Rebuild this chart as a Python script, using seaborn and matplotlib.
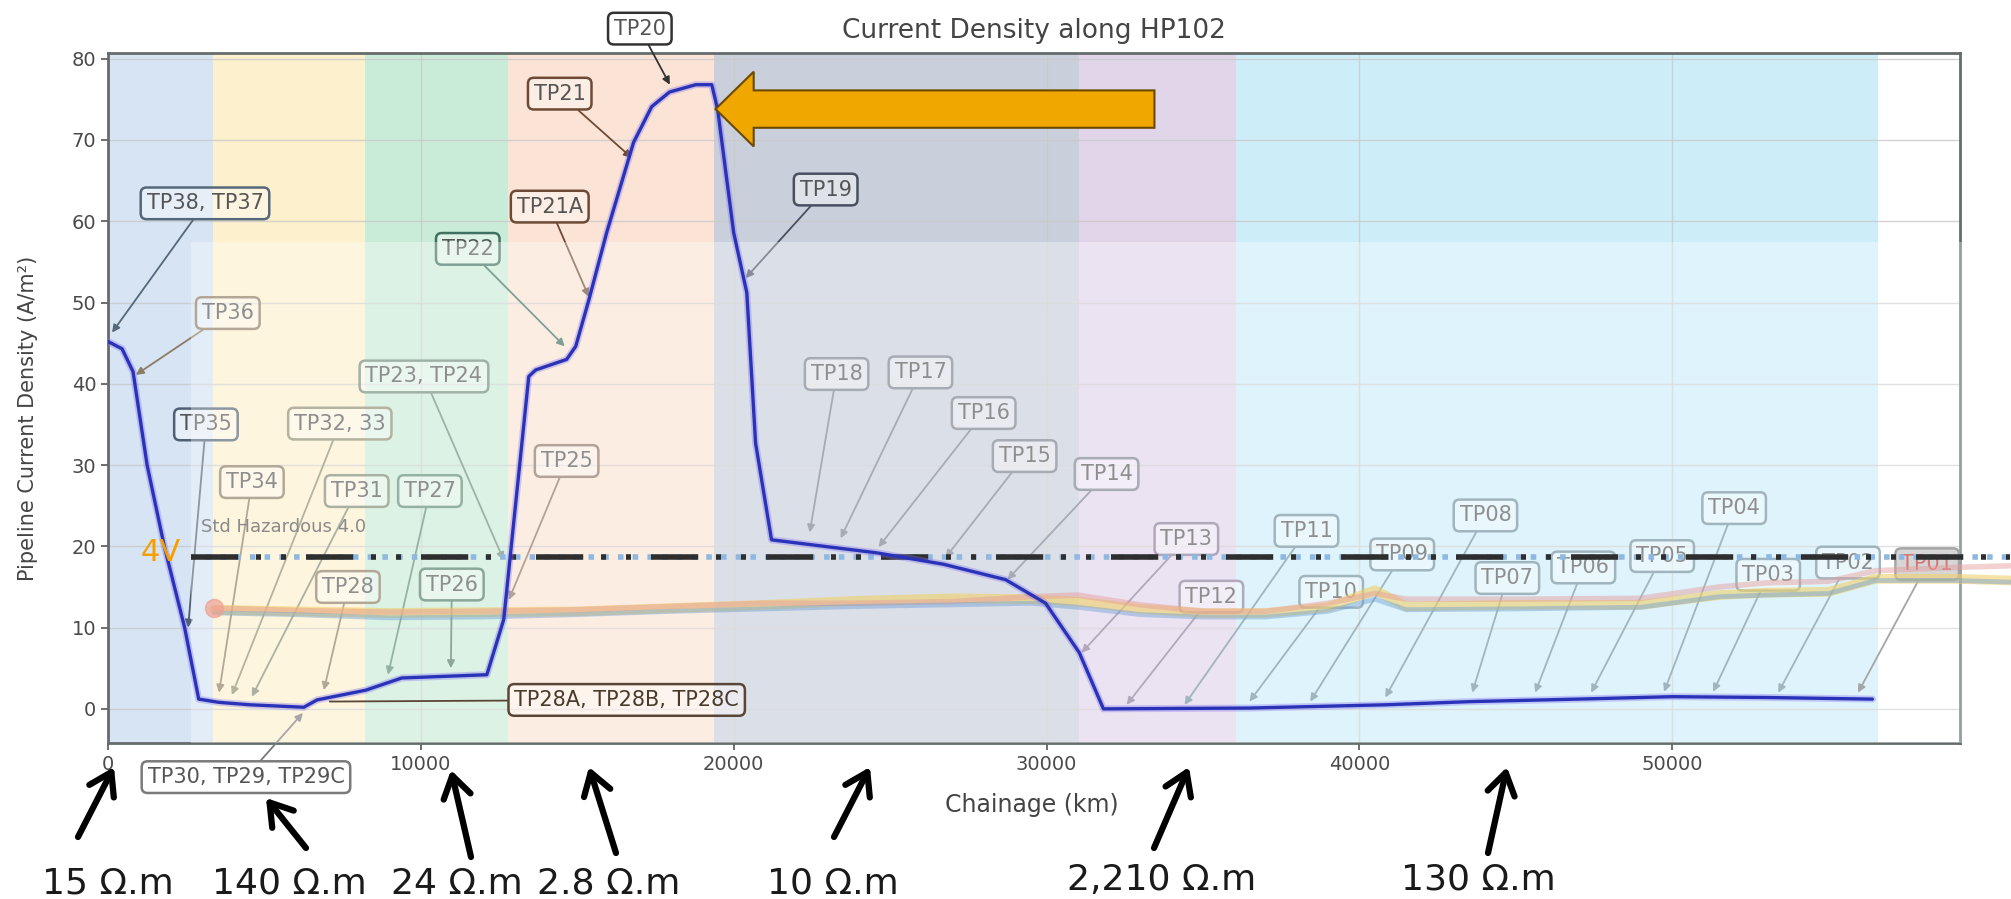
import matplotlib
matplotlib.use("Agg")
import matplotlib.pyplot as plt
from matplotlib.patches import Rectangle, FancyArrow
import pandas as pd
import seaborn as sns

# pipeline current density along HP102 (chainage in m, A/m2)
chainage = [0, 450, 800, 1250, 1800, 2450, 2900, 3550, 4540, 6260, 6680, 8240, 9390, 12110,
            12650, 13450, 13670, 14660, 14950, 15370, 15940, 16800, 17380, 17950, 18790, 19300,
            19490, 20000, 20420, 20700, 21210, 24570, 26700, 28690, 29970, 31050, 31820, 36490,
            40830, 43610, 47000, 50000, 53000, 56400]
density = [45.2, 44.3, 41.5, 30.0, 20.0, 10.0, 1.2, 0.8, 0.5, 0.2, 1.1, 2.3, 3.8, 4.2,
           11.0, 40.9, 41.7, 43.0, 44.6, 50.3, 58.6, 69.7, 74.1, 75.9, 76.8, 76.8,
           73.7, 58.6, 51.2, 32.7, 20.8, 19.2, 17.8, 15.9, 13.0, 6.9, 0.0, 0.1,
           0.5, 0.9, 1.2, 1.5, 1.4, 1.2]

# faded curves of the pasted hazard chart
ref_chainage = [3400, 6000, 9000, 12000, 15000, 18000, 21000, 24000, 27000, 29500, 31000, 33000,
                35000, 37000, 39000, 40500, 41500, 45000, 49000, 51500, 53000, 55000, 56500,
                59000, 60800]
ref_yellow = [12.2, 12.0, 11.8, 11.9, 12.0, 12.4, 12.8, 13.3, 13.6, 13.5, 13.2, 12.3,
              11.8, 11.8, 12.5, 14.6, 12.6, 12.8, 12.8, 14.0, 14.3, 14.4, 16.0, 16.0, 15.8]
ref_pink = [12.4, 12.1, 11.9, 12.0, 12.2, 12.6, 13.0, 13.0, 13.2, 13.8, 14.0, 12.8,
            12.0, 12.0, 13.0, 14.2, 13.5, 13.5, 13.6, 15.0, 15.5, 15.7, 17.0, 17.4, 17.6]
ref_blue = [11.8, 11.6, 11.2, 11.3, 11.6, 12.0, 12.3, 12.6, 12.8, 13.0, 12.5, 11.6,
            11.3, 11.3, 12.0, 13.5, 12.2, 12.3, 12.5, 13.8, 14.0, 14.2, 15.8, 15.8, 15.6]
hazard_level = 18.7

# soil zones
zone_edges = [0, 3350, 8220, 12800, 19370, 31050, 36070, 56580]
zone_colours = ['#d6e4f4', '#fdf0cc', '#c9ecd9', '#fbe4d5', '#c9cfdb', '#e1d5ea', '#cdeef9']
res_labels = ['15 Ω.m', '140 Ω.m', '24 Ω.m', '2.8 Ω.m', '10 Ω.m', '2,210 Ω.m', '130 Ω.m']

# test point call-outs
tp_labels = ['TP38, TP37', 'TP36', 'TP35', 'TP34', 'TP32, 33', 'TP31', 'TP27', 'TP28', 'TP26',
             'TP23, TP24', 'TP25', 'TP28A, TP28B, TP28C', 'TP30, TP29, TP29C', 'TP22', 'TP21A',
             'TP21', 'TP20', 'TP19', 'TP18', 'TP17', 'TP16', 'TP15', 'TP14', 'TP13', 'TP12',
             'TP11', 'TP10', 'TP09', 'TP08', 'TP07', 'TP06', 'TP05', 'TP04', 'TP03', 'TP02', 'TP01']
tp_text = [(3100, 62.2), (3830, 48.7), (3130, 35.0), (4600, 27.9), (7410, 35.1), (7950, 26.8),
           (10290, 26.8), (7670, 15.0), (10990, 15.3), (10100, 40.9), (14660, 30.5), (16580, 1.1),
           (4410, -8.4), (11500, 56.6), (14120, 61.8), (14440, 75.7), (17000, 83.7), (22940, 63.9),
           (23290, 41.2), (25970, 41.4), (27990, 36.4), (29300, 31.1), (31920, 28.9), (34470, 20.9),
           (35270, 13.8), (38310, 21.9), (39100, 14.4), (41370, 19.0), (44030, 23.8), (44730, 16.1),
           (47160, 17.4), (49680, 18.8), (51980, 24.7), (53070, 16.5), (55620, 18.0), (58150, 17.8)]
tp_point = [(130, 46.3), (890, 41.1), (2560, 10.0), (3550, 2.0), (3960, 1.7), (4600, 1.5),
            (8950, 4.2), (6900, 2.3), (10960, 5.0), (12650, 18.3), (12810, 13.4), (7090, 0.9),
            (6230, -0.5), (14600, 44.6), (15370, 50.7), (16740, 67.8), (17960, 76.8), (20380, 53.0),
            (22430, 21.7), (23420, 21.0), (24630, 19.9), (26770, 18.6), (28750, 15.9), (31120, 6.9),
            (32560, 0.5), (34410, 0.5), (36490, 0.9), (38430, 0.9), (40830, 1.4), (43610, 2.0),
            (45620, 2.0), (47410, 2.0), (49740, 2.1), (51310, 2.1), (53390, 2.0), (55940, 2.0)]
tp_edge = ['#55677a', '#8c7c62', '#4f6072', '#8c7c62', '#8c8c70', '#7f8a72', '#5f8a74', '#8c7c62',
           '#4f7a66', '#6f8a7c', '#8c7262', '#5a4636', '#7a7a7a', '#3f7060', '#6e4a36', '#6e4a36',
           '#333333', '#4a5060', '#7a808c', '#7a808c', '#7a808c', '#7a808c', '#7a808c', '#8a7e98',
           '#8a7e98'] + ['#6f8f9c'] * 10 + ['#777777']

W, H = 2011, 899
sns.set_theme(style="whitegrid")
plt.rcParams['font.family'] = ['DejaVu Sans']

fig = plt.figure(figsize=(W / 100, H / 100), dpi=100)
ax = fig.add_axes([108 / W, 1 - 743 / H, 1852 / W, 690 / H])
ax.set_xlim(0, 59200)
ax.set_ylim(-4.2, 80.7)
ax.set_axisbelow(True)

for i in range(len(zone_colours)):
    ax.axvspan(zone_edges[i], zone_edges[i + 1], color=zone_colours[i], lw=0, zorder=0.1)

ax.grid(True, color='#c9c9c9', lw=1.0, alpha=0.8)
for s in ax.spines.values():
    s.set_color('#666b6b')
    s.set_linewidth(2)
ax.tick_params(bottom=True, left=True, direction='out', length=5, width=1.2, color='#555555',
               labelcolor='#4a4a4a', labelsize=14)
ax.set_xticks(range(0, 60000, 10000))
ax.set_yticks(range(0, 90, 10))

# call-outs
for lab, txt, pt, ec in zip(tp_labels, tp_text, tp_point, tp_edge):
    fc = (1, 1, 1, 0.4)
    tc = '#555555'
    style = '-|>'
    z = 3
    if lab == 'TP01':
        fc, tc = (0.72, 0.72, 0.72, 0.85), '#c03030'
    if lab.startswith('TP28A'):
        tc, style, z = '#4a3a2a', '-', 4.6
    ax.annotate(lab, xy=pt, xytext=txt, ha='center', va='center', fontsize=15, color=tc,
                bbox=dict(boxstyle='round,pad=0.28', fc=fc, ec=ec, lw=1.8),
                arrowprops=dict(arrowstyle=style, color=ec, lw=1.3, shrinkA=0, shrinkB=0,
                                mutation_scale=11),
                annotation_clip=False, zorder=z)

# pasted hazard chart: washed-out lower band with its curves
ax.add_patch(Rectangle((2650, -4.2), 62000, 57.5 + 4.2, fc='white', ec='none', alpha=0.34,
                       clip_on=False, zorder=3.5))
for yv, col, lw, a in [(ref_yellow, '#f0d068', 7, 0.6), (ref_pink, '#e69a9a', 4, 0.45),
                       (ref_blue, '#6f9fd6', 3.5, 0.45)]:
    ax.plot(ref_chainage, yv, color=col, lw=lw, alpha=a, clip_on=False, zorder=3.6,
            solid_capstyle='round')
ax.plot(ref_chainage[0], ref_pink[0], 'o', ms=13, color='#f0a090', alpha=0.7, zorder=3.6)
ax.plot([2650, 60800], [hazard_level, hazard_level], color='#8fb8e0', lw=4, ls=':',
        clip_on=False, zorder=3.7)
ax.plot([2650, 60800], [hazard_level, hazard_level], color='#2e2e2e', lw=4,
        ls=(0, (8.5, 3.2, 0.9, 3.6, 0.9, 3.6)), clip_on=False, zorder=3.8)
ax.text(2970, 22.4, 'Std Hazardous 4.0', fontsize=13, color='#8a8a8a', va='center', ha='left',
        zorder=3.7)
ax.text(1050, 19.3, '4V', fontsize=22, color='#f5a000', va='center', ha='left', zorder=5)

# main curve
df = pd.DataFrame({'Chainage': chainage, 'Density': density})
sns.lineplot(data=df, x='Chainage', y='Density', ax=ax, color='#8070f0', lw=5, alpha=0.35,
             zorder=4.4)
sns.lineplot(data=df, x='Chainage', y='Density', ax=ax, color='#2a33b8', lw=2.4, zorder=4.5)

# highlight arrow on the peak
ax.add_patch(FancyArrow(33450, 73.8, 19420 - 33450, 0, width=4.6, head_width=9.2,
                        head_length=1220, length_includes_head=True, fc='#f0a800',
                        ec='#6b4a00', lw=1.5, zorder=6, clip_on=False))

ax.set_title('Current Density along HP102', fontsize=19, color='#444444', pad=11)
ax.set_xlabel('Chainage (km)', fontsize=17, color='#444444')
ax.set_ylabel('Pipeline Current Density (A/m²)', fontsize=15, color='#444444')
ax.xaxis.label.set_va('center')
ax.yaxis.label.set_va('center')
ax.xaxis.set_label_coords(0.499, -0.09)
ax.yaxis.set_label_coords(-0.043, 0.47)

# resistivity of each zone under the axis (figure pixels, top origin)
res_text_px = [(108, 884), (289, 884), (457, 884), (609, 884), (833, 884), (1162, 880), (1478, 880)]
res_tail_px = [(78, 837), (306, 848), (471, 857), (616, 853), (834, 837), (1154, 848), (1488, 853)]
res_head_px = [(114, 767), (266, 798), (451, 770), (589, 767), (870, 767), (1189, 767), (1507, 767)]
for lab, tp, tl, hd in zip(res_labels, res_text_px, res_tail_px, res_head_px):
    fig.text(tp[0] / W, 1 - tp[1] / H, lab, fontsize=26, color='#1a1a1a', ha='center', va='center')
    ax.annotate('', xy=(hd[0], H - hd[1]), xytext=(tl[0], H - tl[1]), xycoords='figure pixels',
                textcoords='figure pixels', annotation_clip=False,
                arrowprops=dict(arrowstyle='->,head_length=0.7,head_width=0.45', lw=4.5,
                                color='black', mutation_scale=22, shrinkA=0, shrinkB=0))

fig.savefig('out.png', dpi=100)
